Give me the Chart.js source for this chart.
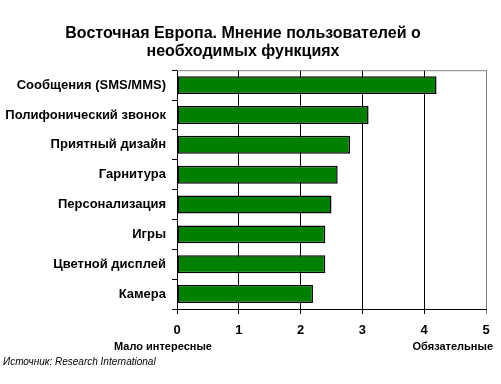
<!DOCTYPE html>
<html>
<head>
<meta charset="utf-8">
<script src="https://cdn.jsdelivr.net/npm/chart.js@4/dist/chart.umd.min.js"></script>
<style>
  html, body { margin: 0; padding: 0; background: #fff; }
  #wrap { width: 501px; height: 384px; position: relative; }
</style>
</head>
<body>
<div id="wrap"><canvas id="graficBar"></canvas></div>
<script>
var features = ['Сообщения (SMS/MMS)', 'Полифонический звонок', 'Приятный дизайн', 'Гарнитура',
                'Персонализация', 'Игры', 'Цветной дисплей', 'Камера'];
var scores = [4.2, 3.1, 2.8, 2.6, 2.5, 2.4, 2.4, 2.2];
var titleLines = ['Восточная Европа. Мнение пользователей о', 'необходимых функциях'];
var lowLabel = 'Мало интересные';
var highLabel = 'Обязательные';
var sourceText = 'Источник: Research International';

var fontFamily = '"Liberation Sans", Arial, sans-serif';

// top border + captions under the axis
var extras = {
  id: 'extras',
  afterDraw: function(chart) {
    var ctx = chart.ctx;
    var a = chart.chartArea;
    ctx.save();
    ctx.strokeStyle = '#808080';
    ctx.lineWidth = 1;
    ctx.beginPath();
    ctx.moveTo(a.left, a.top + 0.5);
    ctx.lineTo(a.right, a.top + 0.5);
    ctx.stroke();

    ctx.fillStyle = '#000';
    ctx.textBaseline = 'middle';
    ctx.font = 'bold 11px ' + fontFamily;
    ctx.textAlign = 'center';
    ctx.fillText(lowLabel, a.left - 14, a.bottom + 38);
    ctx.textAlign = 'right';
    ctx.fillText(highLabel, a.right + 7, a.bottom + 38);

    ctx.font = 'italic 10px ' + fontFamily;
    ctx.textAlign = 'left';
    ctx.fillText(sourceText, 3, a.bottom + 53);
    ctx.restore();
  }
};

var cxt = new Chart(document.getElementById('graficBar'), {
  type: 'bar',
  data: {
    labels: features,
    datasets: [{
      label: 'оценка',
      data: scores,
      backgroundColor: 'rgb(0,128,0)',
      borderColor: '#000',
      borderWidth: 1.5,
      borderSkipped: false,
      barPercentage: 0.6,
      categoryPercentage: 1
    }]
  },
  options: {
    indexAxis: 'y',
    responsive: true,
    maintainAspectRatio: false,
    animation: false,
    layout: { padding: { left: 0, right: 15, top: 0, bottom: 0 } },
    plugins: {
      legend: { display: false },
      tooltip: { enabled: false },
      title: {
        display: true,
        text: titleLines,
        color: '#000',
        font: { family: fontFamily, size: 16, weight: 'bold', lineHeight: 1.1 },
        padding: { top: 25, bottom: 10 }
      }
    },
    scales: {
      x: {
        min: 0,
        max: 5,
        ticks: {
          stepSize: 1,
          color: '#000',
          padding: 9,
          font: { family: fontFamily, size: 13, weight: 'bold' }
        },
        grid: {
          color: function(c) { return c.tick && c.tick.value === 5 ? '#808080' : '#000'; },
          lineWidth: 1,
          tickLength: 5
        },
        border: { color: '#000', width: 1 },
        afterFit: function(scale) { scale.height = 75; }
      },
      y: {
        ticks: {
          color: '#000',
          padding: 6,
          font: { family: fontFamily, size: 13, weight: 'bold' }
        },
        grid: {
          drawOnChartArea: false,
          color: '#000',
          tickLength: 5,
          offset: true
        },
        border: { color: '#000', width: 1 },
        afterFit: function(scale) { scale.width = 177; }
      }
    }
  },
  plugins: [extras]
});
</script>
</body>
</html>
